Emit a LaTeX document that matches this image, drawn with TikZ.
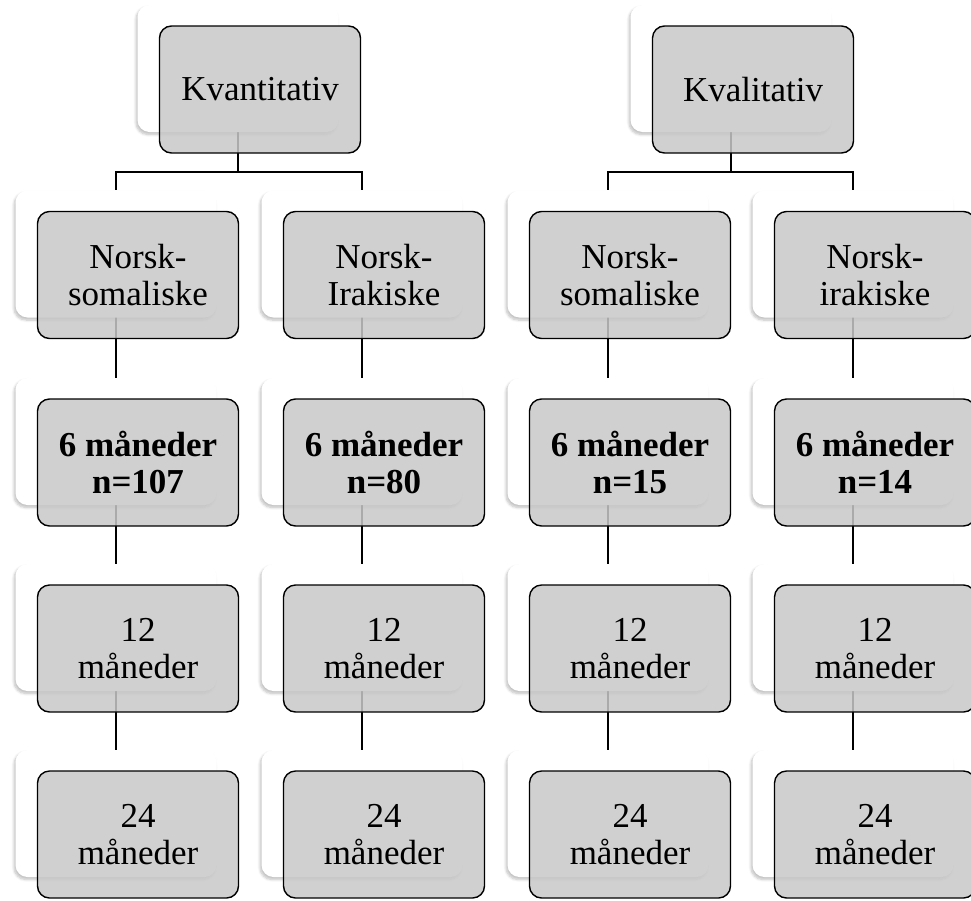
\documentclass[tikz,border=0pt]{standalone}
\usepackage{fontspec}
\setmainfont{Liberation Serif}
\usetikzlibrary{shadows.blur}
\pgfdeclarelayer{bg}
\pgfsetlayers{bg,main}
\definecolor{boxgray}{RGB}{200,200,200}
\tikzset{
  wbox/.style={rectangle, rounded corners=12pt, minimum width=201pt, minimum height=127pt,
    fill=white, inner sep=0pt,
    blur shadow={shadow xshift=-1.5pt, shadow yshift=-2.5pt, shadow blur steps=6, shadow opacity=25, shadow blur radius=2.5pt}},
  gbox/.style={rectangle, rounded corners=12pt, minimum width=201pt, minimum height=127pt,
    fill=boxgray, fill opacity=0.85, text opacity=1, draw=black, line width=1.4pt,
    align=center, inner sep=0pt, font=\fontsize{35}{37}\selectfont},
  conn/.style={draw=black, line width=1.8pt}
}
\newcommand\mypair[4]{%
  \node[wbox] (w#1) at (#2,#3) {};
  \node[gbox] (g#1) at (#2+22,#3+21) {#4};
}
\begin{document}
\begin{tikzpicture}[x=1pt,y=-1pt]
\useasboundingbox (0,0) rectangle (971,900);
% top
\mypair{kv}{238}{68.5}{Kvantitativ}
\mypair{kl}{731}{68.5}{Kvalitativ}
% row 2
\mypair{a2}{116}{254}{Norsk-\\somaliske}
\mypair{b2}{362}{254}{Norsk-\\Irakiske}
\mypair{c2}{608}{254}{Norsk-\\somaliske}
\mypair{d2}{853}{254}{Norsk-\\irakiske}
% row 3
\mypair{a3}{116}{441.5}{\textbf{6 måneder}\\\textbf{n=107}}
\mypair{b3}{362}{441.5}{\textbf{6 måneder}\\\textbf{n=80}}
\mypair{c3}{608}{441.5}{\textbf{6 måneder}\\\textbf{n=15}}
\mypair{d3}{853}{441.5}{\textbf{6 måneder}\\\textbf{n=14}}
% row 4
\mypair{a4}{116}{627.5}{12\\måneder}
\mypair{b4}{362}{627.5}{12\\måneder}
\mypair{c4}{608}{627.5}{12\\måneder}
\mypair{d4}{853}{627.5}{12\\måneder}
% row 5
\mypair{a5}{116}{813.5}{24\\måneder}
\mypair{b5}{362}{813.5}{24\\måneder}
\mypair{c5}{608}{813.5}{24\\måneder}
\mypair{d5}{853}{813.5}{24\\måneder}
\begin{pgfonlayer}{bg}
  \coordinate (hk) at (0,172);
  \draw[conn] (wkv.center) -- (wkv.center |- hk) -| (wa2.north);
  \draw[conn] (wkv.center |- hk) -| (wb2.north);
  \draw[conn] (wkl.center) -- (wkl.center |- hk) -| (wc2.north);
  \draw[conn] (wkl.center |- hk) -| (wd2.north);
  \foreach \c in {a,b,c,d}{
    \draw[conn] (w\c2.center) -- (w\c3.north);
    \draw[conn] (w\c3.center) -- (w\c4.north);
    \draw[conn] (w\c4.center) -- (w\c5.north);
  }
\end{pgfonlayer}
\end{tikzpicture}
\end{document}
